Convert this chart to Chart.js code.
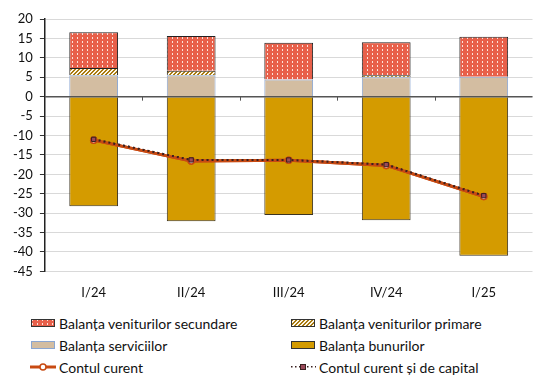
<!DOCTYPE html>
<html>
<head>
<meta charset="utf-8">
<script src="https://cdn.jsdelivr.net/npm/chart.js@4"></script>
<style>
  body { margin: 0; background: #fff; font-family: Lato, sans-serif; }
  #wrap { position: relative; width: 538px; height: 307px; }
  .legend { position: absolute; left: 0; top: 313px; width: 538px; font-size: 14px; color: #111; }
  .item { position: absolute; display: flex; align-items: center; height: 20px; }
  .item canvas { margin-right: 3px; }
</style>
</head>
<body>
<div id="wrap"><canvas id="chart" width="538" height="307"></canvas></div>
<div class="legend" id="legend"></div>
<script>
const categories = ['I/24', 'II/24', 'III/24', 'IV/24', 'I/25'];
const secundare = [9.2, 8.9, 9.5, 8.5, 10.3];
const primare = [1.9, 1.2, 0, 0.5, 0];
const servicii = [5.5, 5.5, 4.4, 5.0, 5.1];
const bunuri = [-28.2, -32.1, -30.5, -31.8, -41.0];
const contCurent = [-11.2, -16.6, -16.4, -17.7, -25.7];
const contCapital = [-11.0, -16.3, -16.3, -17.5, -25.5];

const RED = '#e8604a', GOLD = '#d49b00', BEIGE = '#d3bda1', LINE = '#c84a12';

function dotPattern(ctx) {
  const c = document.createElement('canvas');
  c.width = 5; c.height = 4;
  const g = c.getContext('2d');
  g.fillStyle = RED; g.fillRect(0, 0, 5, 4);
  g.fillStyle = '#fbe3dc'; g.fillRect(2, 1, 1, 2);
  return ctx.createPattern(c, 'repeat');
}
function hatchPattern(ctx) {
  const c = document.createElement('canvas');
  c.width = 4; c.height = 4;
  const g = c.getContext('2d');
  g.fillStyle = '#fff8e8'; g.fillRect(0, 0, 4, 4);
  g.fillStyle = '#a87a10';
  for (let i = 0; i < 4; i++) { g.fillRect(i, 3 - i, 1, 1); g.fillRect((i + 1) % 4, 3 - i, 1, 1); }
  return ctx.createPattern(c, 'repeat');
}

const ctx = document.getElementById('chart').getContext('2d');

const axisExtras = {
  id: 'axisExtras',
  afterDatasetsDraw(chart) {
    const { ctx, scales: { x, y }, chartArea } = chart;
    const y0 = y.getPixelForValue(0);
    ctx.save();
    ctx.strokeStyle = '#555';
    ctx.lineWidth = 1.5;
    ctx.beginPath();
    ctx.moveTo(chartArea.left, y0);
    ctx.lineTo(chartArea.right, y0);
    ctx.stroke();
    ctx.lineWidth = 1;
    for (let i = 1; i < categories.length; i++) {
      const px = Math.round(x.getPixelForValue(i - 0.5)) + 0.5;
      ctx.beginPath();
      ctx.moveTo(px, y0);
      ctx.lineTo(px, y0 + 4);
      ctx.stroke();
    }
    ctx.restore();
  },
  afterDraw(chart) {
    // redraw lines above the zero axis
    chart.getSortedVisibleDatasetMetas()
      .filter(m => m.type === 'line')
      .reverse()
      .forEach(m => m.controller.draw());
  }
};

new Chart(ctx, {
  data: {
    labels: categories,
    datasets: [
      { type: 'line', label: 'Contul curent', data: contCurent, order: 1, stack: 'cc',
        borderColor: LINE, borderWidth: 3, pointStyle: 'circle', pointRadius: 3,
        pointBackgroundColor: '#fff', pointBorderColor: LINE, pointBorderWidth: 1.5 },
      { type: 'line', label: 'Contul curent și de capital', data: contCapital, order: 0, stack: 'ccc',
        borderColor: '#3a2020', borderWidth: 2, borderDash: [2, 3], pointStyle: 'rect', pointRadius: 3,
        pointBackgroundColor: '#9a4a5a', pointBorderColor: '#3a2020', pointBorderWidth: 1 },
      { type: 'bar', label: 'Balanța serviciilor', data: servicii, order: 2,
        backgroundColor: BEIGE, borderColor: '#8aa6d2', borderWidth: 1, stack: 's' },
      { type: 'bar', label: 'Balanța veniturilor primare', data: primare, order: 2,
        backgroundColor: hatchPattern(ctx), borderColor: '#222', borderWidth: 1, stack: 's' },
      { type: 'bar', label: 'Balanța veniturilor secundare', data: secundare, order: 2,
        backgroundColor: dotPattern(ctx), borderColor: '#222', borderWidth: 1, stack: 's' },
      { type: 'bar', label: 'Balanța bunurilor', data: bunuri, order: 2,
        backgroundColor: GOLD, borderColor: '#3b3320', borderWidth: 1, stack: 's' }
    ]
  },
  options: {
    responsive: false,
    animation: false,
    devicePixelRatio: 1,
    layout: { padding: { top: 19, right: 0, left: 6, bottom: 0 } },
    datasets: { bar: { categoryPercentage: 1, barPercentage: 0.5 } },
    plugins: { legend: { display: false }, tooltip: { enabled: false } },
    scales: {
      x: {
        stacked: true,
        grid: { display: false },
        border: { display: false },
        ticks: { color: '#111', font: { family: 'Lato', size: 13 }, padding: 6 }
      },
      y: {
        stacked: true,
        min: -45, max: 20,
        ticks: { stepSize: 5, color: '#111', font: { family: 'Lato', size: 13 }, padding: 7 },
        grid: { color: '#d9d9d9', tickColor: '#333', tickLength: 5 },
        border: { display: true, color: '#222', width: 1.5 }
      }
    }
  },
  plugins: [axisExtras]
});

// legend
const legendItems = [
  { label: 'Balanța veniturilor secundare', kind: 'dots', x: 30, y: 0 },
  { label: 'Balanța veniturilor primare', kind: 'hatch', x: 290, y: 0 },
  { label: 'Balanța serviciilor', kind: 'serv', x: 30, y: 22 },
  { label: 'Balanța bunurilor', kind: 'goods', x: 290, y: 22 },
  { label: 'Contul curent', kind: 'line', x: 30, y: 44 },
  { label: 'Contul curent și de capital', kind: 'dline', x: 290, y: 44 }
];
const leg = document.getElementById('legend');
legendItems.forEach(it => {
  const d = document.createElement('div');
  d.className = 'item';
  d.style.left = it.x + 'px';
  d.style.top = it.y + 'px';
  const c = document.createElement('canvas');
  c.width = 26; c.height = 10;
  const g = c.getContext('2d');
  if (it.kind === 'dots' || it.kind === 'hatch' || it.kind === 'serv' || it.kind === 'goods') {
    g.fillStyle = it.kind === 'dots' ? dotPattern(g) : it.kind === 'hatch' ? hatchPattern(g) : it.kind === 'serv' ? BEIGE : GOLD;
    g.fillRect(1, 1, 24, 8);
    g.strokeStyle = it.kind === 'serv' ? '#8aa6d2' : '#333';
    g.strokeRect(1.5, 1.5, 23, 7);
  } else if (it.kind === 'line') {
    g.strokeStyle = LINE; g.lineWidth = 3;
    g.beginPath(); g.moveTo(0, 5); g.lineTo(26, 5); g.stroke();
    g.fillStyle = '#fff'; g.lineWidth = 1.5;
    g.beginPath(); g.arc(13, 5, 3, 0, Math.PI * 2); g.fill(); g.stroke();
  } else {
    g.fillStyle = '#3a2020';
    for (let px = 1; px < 26; px += 4) g.fillRect(px, 4, 1.5, 1.5);
    g.fillStyle = '#9a4a5a'; g.fillRect(10, 2, 6, 6);
    g.strokeStyle = '#3a2020'; g.lineWidth = 1; g.strokeRect(10.5, 2.5, 5, 5);
  }
  const s = document.createElement('span');
  s.textContent = it.label;
  d.appendChild(c); d.appendChild(s);
  leg.appendChild(d);
});
</script>
</body>
</html>
